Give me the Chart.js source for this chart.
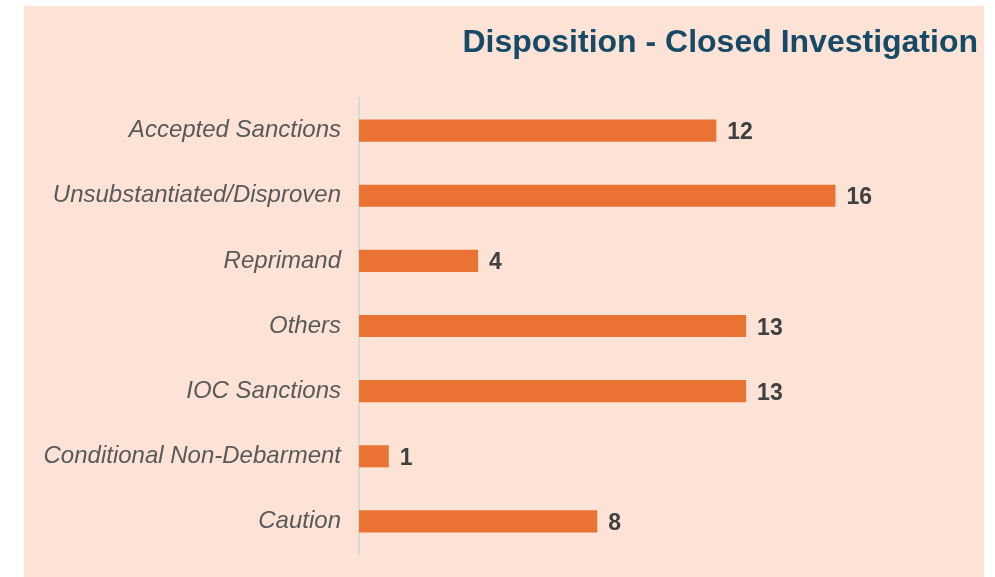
<!DOCTYPE html>
<html>
<head>
<meta charset="utf-8">
<script src="https://cdn.jsdelivr.net/npm/chart.js@4"></script>
<style>
html,body{margin:0;padding:0;background:#ffffff;}
#wrap{position:relative;width:995px;height:577px;overflow:hidden;}
#panel{position:absolute;left:24px;top:6px;width:960px;height:571px;background:#fce3d6;}
#c{position:absolute;left:0;top:0;}
</style>
</head>
<body>
<div id="wrap">
<div id="panel"></div>
<canvas id="c" width="995" height="577"></canvas>
</div>
<script>
const titleText = "Disposition - Closed Investigation";
const categories = ["Accepted Sanctions","Unsubstantiated/Disproven","Reprimand","Others","IOC Sanctions","Conditional Non-Debarment","Caution"];
const counts = [12,16,4,13,13,1,8];

const FONT = "'Liberation Sans', Arial, sans-serif";

const decor = {
  id: 'decor',
  afterDatasetsDraw(chart) {
    const ctx = chart.ctx;
    ctx.save();
    // value labels
    ctx.font = "bold 23px " + FONT;
    ctx.fillStyle = "#404040";
    ctx.textAlign = "left";
    ctx.textBaseline = "alphabetic";
    const meta = chart.getDatasetMeta(0);
    meta.data.forEach((bar, i) => {
      ctx.fillText(String(counts[i]), bar.x + 11, bar.y + 8.5);
    });
    // title
    ctx.font = "bold 32px " + FONT;
    ctx.fillStyle = "#174a66";
    ctx.textAlign = "right";
    ctx.textBaseline = "alphabetic";
    ctx.fillText(titleText, 978, 52);
    ctx.restore();
  }
};

new Chart(document.getElementById('c'), {
  type: 'bar',
  data: {
    labels: categories,
    datasets: [{
      data: counts,
      backgroundColor: '#ea7334',
      borderWidth: 0,
      categoryPercentage: 1.0,
      barPercentage: 0.34
    }]
  },
  options: {
    indexAxis: 'y',
    responsive: false,
    devicePixelRatio: 1,
    animation: false,
    layout: { padding: { left: 0, right: 100, top: 98, bottom: 23 } },
    plugins: { legend: { display: false }, tooltip: { enabled: false }, title: { display: false } },
    scales: {
      x: { min: 0, max: 18, display: false },
      y: {
        grid: { display: false, drawTicks: false },
        border: { display: true, color: '#d9d9d9', width: 2 },
        ticks: {
          padding: 18,
          color: '#595959',
          font: { family: FONT, size: 24, style: 'italic' }
        },
        afterFit(scale) { scale.width = 359; scale.paddingTop = 0; scale.paddingBottom = 0; }
      }
    }
  },
  plugins: [decor]
});
</script>
</body>
</html>
